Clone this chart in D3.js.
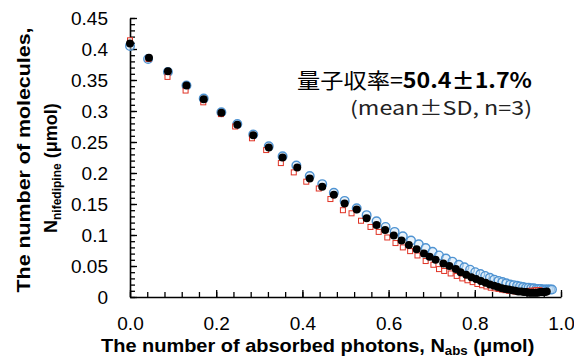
<!DOCTYPE html>
<html>
<head>
<meta charset="utf-8">
<script src="https://cdn.jsdelivr.net/npm/d3@7.9.0/dist/d3.min.js"></script>
<style>
  body { margin: 0; background: #fff; }
  svg text { font-family: "Liberation Sans", Arial, sans-serif; }
</style>
</head>
<body>
<svg id="chart" width="574" height="360"></svg>
<script>
// replicate 1 (black filled circles)
const run1X = [0.000, 0.044, 0.088, 0.131, 0.171, 0.212, 0.249, 0.286, 0.322, 0.354,
  0.388, 0.417, 0.446, 0.473, 0.498, 0.526, 0.549, 0.572, 0.592, 0.612,
  0.630, 0.647, 0.665, 0.682, 0.695, 0.709, 0.727, 0.741, 0.756, 0.767,
  0.780, 0.792, 0.803, 0.814, 0.825, 0.835, 0.845, 0.854, 0.863, 0.871,
  0.879, 0.887, 0.894, 0.901, 0.908, 0.914, 0.920, 0.926, 0.931, 0.936,
  0.941, 0.946, 0.951, 0.955, 0.959, 0.963, 0.967];
const run1Y = [0.409, 0.386, 0.364, 0.341, 0.319, 0.297, 0.278, 0.261, 0.241, 0.225,
  0.209, 0.191, 0.178, 0.165, 0.151, 0.141, 0.127, 0.116, 0.108, 0.099,
  0.091, 0.084, 0.077, 0.070, 0.065, 0.060, 0.054, 0.050, 0.045, 0.040,
  0.036, 0.032, 0.029, 0.026, 0.023, 0.020, 0.018, 0.016, 0.014, 0.013,
  0.012, 0.011, 0.010, 0.009, 0.009, 0.008, 0.008, 0.007, 0.007, 0.007,
  0.007, 0.007, 0.008, 0.008, 0.008, 0.008, 0.009];

// replicate 2 (blue open circles)
const run2X = [0.000, 0.042, 0.088, 0.131, 0.171, 0.212, 0.249, 0.286, 0.322, 0.354,
  0.386, 0.417, 0.446, 0.473, 0.498, 0.526, 0.549, 0.572, 0.593, 0.614,
  0.633, 0.652, 0.670, 0.686, 0.702, 0.717, 0.733, 0.748, 0.763, 0.776,
  0.789, 0.801, 0.813, 0.824, 0.835, 0.845, 0.855, 0.864, 0.873, 0.882,
  0.890, 0.898, 0.905, 0.912, 0.919, 0.925, 0.931, 0.937, 0.943, 0.948,
  0.953, 0.958, 0.963, 0.967, 0.971, 0.975, 0.979];
const run2Y = [0.405, 0.384, 0.363, 0.341, 0.320, 0.298, 0.279, 0.262, 0.243, 0.227,
  0.212, 0.195, 0.182, 0.168, 0.155, 0.143, 0.132, 0.122, 0.113, 0.105,
  0.098, 0.091, 0.085, 0.079, 0.073, 0.067, 0.062, 0.057, 0.052, 0.048,
  0.044, 0.040, 0.037, 0.034, 0.031, 0.028, 0.026, 0.024, 0.022, 0.020,
  0.019, 0.018, 0.017, 0.016, 0.015, 0.015, 0.014, 0.014, 0.013, 0.013,
  0.013, 0.012, 0.012, 0.012, 0.012, 0.012, 0.012];

// replicate 3 (red open squares)
const run3X = [0.000, 0.043, 0.087, 0.129, 0.170, 0.211, 0.244, 0.283, 0.316, 0.350,
  0.380, 0.409, 0.438, 0.465, 0.494, 0.514, 0.536, 0.558, 0.577, 0.597,
  0.616, 0.633, 0.650, 0.667, 0.686, 0.704, 0.717, 0.729, 0.744, 0.758,
  0.771, 0.783, 0.795, 0.806, 0.817, 0.827, 0.837, 0.846, 0.855, 0.863,
  0.871, 0.879, 0.886, 0.893, 0.900, 0.906, 0.912, 0.918, 0.923, 0.928,
  0.933, 0.938, 0.942, 0.946, 0.950];
const run3Y = [0.414, 0.384, 0.355, 0.333, 0.314, 0.295, 0.275, 0.256, 0.237, 0.216,
  0.201, 0.186, 0.175, 0.158, 0.140, 0.135, 0.123, 0.113, 0.105, 0.096,
  0.087, 0.080, 0.074, 0.067, 0.058, 0.052, 0.045, 0.042, 0.038, 0.034,
  0.030, 0.027, 0.024, 0.021, 0.019, 0.017, 0.015, 0.014, 0.013, 0.012,
  0.011, 0.010, 0.010, 0.009, 0.009, 0.009, 0.009, 0.009, 0.009, 0.010,
  0.010, 0.010, 0.011, 0.011, 0.011];

const xTicks = [0, 0.2, 0.4, 0.6, 0.8, 1.0];
const yTicks = [0, 0.05, 0.1, 0.15, 0.2, 0.25, 0.3, 0.35, 0.4, 0.45];
const xMinorTicks = d3.range(0, 26).map(i => i * 0.04);
const yMinorTicks = d3.range(0, 46).map(i => i * 0.01);

const svg = d3.select('#chart');

const x = d3.scaleLinear().domain([0, 1]).range([130, 561]);
const y = d3.scaleLinear().domain([0, 0.45]).range([297, 18]);

// minor ticks
svg.append('g')
  .attr('transform', 'translate(0,297)')
  .call(d3.axisBottom(x).tickValues(xMinorTicks).tickSize(-5).tickFormat(''))
  .call(g => g.select('.domain').remove())
  .selectAll('line').attr('stroke-width', 1.3);

svg.append('g')
  .attr('transform', 'translate(130,0)')
  .call(d3.axisLeft(y).tickValues(yMinorTicks).tickSize(-5).tickFormat(''))
  .call(g => g.select('.domain').remove())
  .selectAll('line').attr('stroke-width', 1.3);

// major axes
const xAxis = svg.append('g')
  .attr('transform', 'translate(0,297)')
  .call(d3.axisBottom(x).tickValues(xTicks).tickSizeInner(-7).tickSizeOuter(0)
    .tickPadding(20).tickFormat(d => d.toFixed(1)));

const yAxis = svg.append('g')
  .attr('transform', 'translate(130,0)')
  .call(d3.axisLeft(y).tickValues(yTicks).tickSizeInner(-7).tickSizeOuter(0)
    .tickPadding(22).tickFormat(d => d3.format('~g')(d)));

[xAxis, yAxis].forEach(g => {
  g.select('.domain').attr('stroke-width', 1.6);
  g.selectAll('line').attr('stroke-width', 1.3);
  g.selectAll('text').attr('font-size', 19).attr('fill', '#000');
});

// points
const pts = (xs, ys) => xs.map((v, i) => ({ x: v, y: ys[i] }));

svg.append('g').selectAll('circle')
  .data(pts(run2X, run2Y))
  .enter()
  .append('circle')
    .attr('cx', d => x(d.x))
    .attr('cy', d => y(d.y))
    .attr('r', 4.3)
    .attr('fill', 'rgba(210,230,245,0.5)')
    .attr('stroke', '#4f93d2')
    .attr('stroke-width', 1.4);

svg.append('g').selectAll('rect')
  .data(pts(run3X, run3Y))
  .enter()
  .append('rect')
    .attr('x', d => x(d.x) - 2.5)
    .attr('y', d => y(d.y) - 2.5)
    .attr('width', 5)
    .attr('height', 5)
    .attr('fill', '#fff')
    .attr('stroke', '#e03325')
    .attr('stroke-width', 1);

svg.append('g').selectAll('circle')
  .data(pts(run1X, run1Y))
  .enter()
  .append('circle')
    .attr('cx', d => x(d.x))
    .attr('cy', d => y(d.y))
    .attr('r', 4)
    .attr('fill', '#000');

// axis titles
svg.append('text')
  .attr('transform', 'translate(101,352) scale(1.11,1)')
  .attr('font-size', 18)
  .attr('font-weight', 'bold')
  .html('The number of absorbed photons, N<tspan font-size="12" dy="3">abs</tspan><tspan dy="-3"> (μmol)</tspan>');

svg.append('text')
  .attr('transform', 'translate(30,160) rotate(-90)')
  .attr('text-anchor', 'middle')
  .attr('font-size', 19)
  .attr('font-weight', 'bold')
  .attr('textLength', 265)
  .attr('lengthAdjust', 'spacingAndGlyphs')
  .text('The number of molecules,');

svg.append('text')
  .attr('transform', 'translate(57,233) rotate(-90)')
  .attr('font-size', 18)
  .attr('font-weight', 'bold')
  .html('N<tspan font-size="12" dy="4">nifedipine</tspan><tspan dy="-4"> (μmol)</tspan>');

// annotation
svg.append('text')
  .attr('x', 297)
  .attr('y', 88)
  .attr('font-size', 21)
  .attr('textLength', 235)
  .attr('lengthAdjust', 'spacingAndGlyphs')
  .style('font-family', '"Noto Sans CJK JP", sans-serif')
  .html('量子収率=<tspan font-weight="600">50.4±1.7%</tspan>');

svg.append('text')
  .attr('x', 350)
  .attr('y', 115)
  .attr('font-size', 19)
  .attr('fill', '#222')
  .attr('textLength', 182)
  .attr('lengthAdjust', 'spacingAndGlyphs')
  .style('font-family', '"Noto Sans CJK JP", sans-serif')
  .text('(mean±SD, n=3)');
</script>
</body>
</html>
